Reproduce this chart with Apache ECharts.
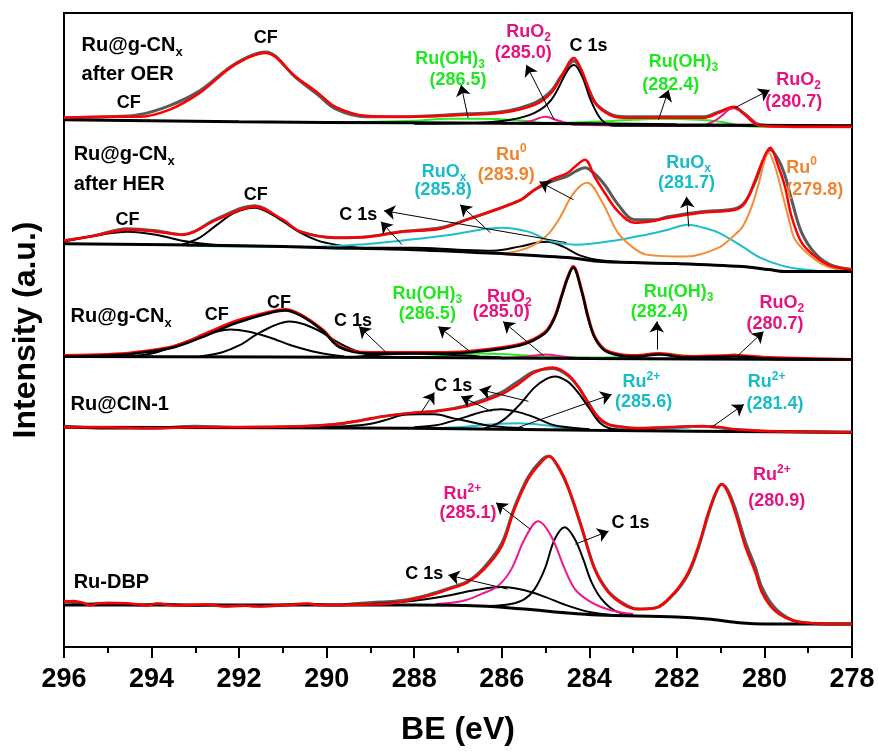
<!DOCTYPE html>
<html><head><meta charset="utf-8">
<script src="https://cdn.jsdelivr.net/npm/echarts@6/dist/echarts.min.js"></script>
<style>html,body{margin:0;padding:0;background:#fff}#c{width:878px;height:751px}</style>
</head><body><div id="c"></div>
<script>
// ---------- axis ----------
const beTicks = [278, 280, 282, 284, 286, 288, 290, 292, 294, 296];

// ---------- Panel 1: Ru@g-CNx after OER ----------
const oerRaw = [[296,530],[295,531],[294.3,533],[293.6,542],[292.9,557],[292.1,584],[291.4,596],[290.7,570],[290.2,553],[289.8,539],[289.1,531],[288.3,531],[286.8,534],[286.0,536],[285.25,545],[284.87,557],[284.64,572],[284.35,587],[284.18,576],[284.03,560],[283.88,546],[283.72,539],[283.42,532],[283.1,531],[281.4,531],[281.05,536],[280.7,540],[280.45,534],[280.1,523],[279,521],[278,521]];
const oerFit = [[296,530],[295,531],[294.3,531],[293.6,538],[292.9,555],[292.1,583],[291.4,595],[290.7,571],[290.2,555],[289.8,541],[289.1,532],[288.3,531],[286.8,533],[286.0,535],[285.25,543],[284.87,555],[284.64,571],[284.35,590],[284.18,578],[284.03,561],[283.88,546],[283.72,538],[283.42,531],[283.1,530],[281.4,530],[281.05,535],[280.7,541],[280.45,533],[280.1,522],[279,521],[278,521]];
const oerC1s = [[288,524],[286.5,525],[285.8,528],[285.25,535],[284.87,548],[284.49,578],[284.35,583],[284.16,571],[283.97,548],[283.72,528],[283.42,522],[282,522],[278,522]];
const oerRuOH3 = [[290,525],[288,527],[287.2,529],[286.5,529],[285.5,527],[285,525],[284,526],[283,528],[282.4,529],[281.5,528],[281,526],[280.5,522],[280,521],[278,521]];
const oerRuO2 = [[286,524],[285.4,526],[285.0,531],[284.7,527],[284.3,523],[281.5,522],[281.1,528],[280.7,540],[280.35,530],[280.05,522],[279.5,521],[278,521]];
const oerBg = [[296,528],[292,526],[288,525],[284,524],[282,523],[278,522]];

// ---------- Panel 2: Ru@g-CNx after HER ----------
const herRaw = [[296,407],[295.3,412],[294.55,419],[293.9,417],[293.3,413],[292.5,429],[291.65,442],[291.0,427],[290.6,416],[289.8,410],[289.05,411],[288.3,416],[287.4,420],[286.8,428],[285.6,447],[285.25,458],[284.87,466],[284.49,472],[284.33,476],[284.1,480],[283.88,474],[283.65,463],[283.34,443],[282.97,428],[282.5,428],[282.2,431],[281.45,436],[280.67,439],[280.44,446],[280.21,466],[280.06,483],[279.87,498],[279.68,488],[279.53,472],[279.38,448],[279.15,415],[278.84,394],[278.5,383],[278,378]];
const herFit = [[296,407],[295.3,412],[294.55,418],[293.9,416],[293.3,413],[292.5,428],[291.65,441],[291.0,428],[290.6,416],[289.8,410],[289.05,411],[288.3,416],[287.4,419],[286.8,428],[285.6,447],[285.25,458],[284.87,468],[284.49,475],[284.33,481],[284.1,488],[283.88,471],[283.65,455],[283.34,436],[282.97,425],[282.5,427],[282.2,430],[281.45,435],[280.67,438],[280.44,445],[280.21,468],[280.06,485],[279.87,500],[279.68,481],[279.53,461],[279.38,431],[279.15,405],[278.84,391],[278.5,382],[278,378]];
const herCF1 = [[296,406],[295.3,412],[294.55,416],[293.9,413],[293.3,407],[292.6,403],[292,402]];
const herCF2 = [[293.3,403],[292.9,410],[292.5,423],[292.1,435],[291.65,440],[291.2,432],[290.6,415],[290.2,407],[289.8,403],[289.3,400]];
const herC1s = [[290,400],[289,400],[288,400],[287,398],[286.2,397],[285.6,401],[285.2,405],[284.95,406],[284.6,401],[284.2,392],[283.7,387],[283,385],[282,384]];
const herRuOx = [[293.2,402],[291,401],[290.2,401],[289,404],[288.3,407],[287.15,413],[286.5,418],[286.0,420],[285.4,416],[284.85,406],[284.3,403],[283.3,408],[282.7,413],[282.2,418],[281.75,423],[281.4,420],[281.05,415],[280.5,401],[280.1,390],[279.6,382],[279.1,378],[278.5,376],[278,376]];
const herRu0 = [[286,394],[285.6,397],[285.25,403],[284.95,413],[284.7,428],[284.35,455],[284.05,465],[283.7,445],[283.35,415],[283.0,400],[282.7,393],[281.8,391],[281.05,400],[280.75,410],[280.5,421],[280.3,440],[280.15,461],[279.9,495],[279.75,480],[279.6,455],[279.45,430],[279.3,408],[278.9,390],[278.5,380],[278,377]];
const herBg = [[296,404],[292,402],[290,400],[288,398],[286,394],[284.5,390],[283.7,386],[282,384],[280.5,381],[279.9,378],[279.5,376],[278,376]];

// ---------- Panel 3: Ru@g-CNx ----------
const gcnRaw = [[296,291],[295,292],[294.4,294],[293.5,300],[292.7,313],[292.1,324],[291.35,334],[290.95,337],[290.6,332],[290.1,317],[289.7,300],[289.05,294],[287.5,294],[286.8,295],[285.6,302],[285.02,314],[284.79,330],[284.64,350],[284.49,370],[284.37,380],[284.18,357],[284.03,330],[283.88,310],[283.65,297],[283.3,292],[282.95,291],[282.4,293],[281.8,290],[280.7,291],[279.9,289],[278,288]];
const gcnFit = [[296,292],[295,293],[294.4,295],[293.5,301],[292.7,315],[292.1,326],[291.35,335],[290.95,338],[290.6,333],[290.1,318],[289.7,301],[289.05,295],[287.5,295],[286.8,296],[285.6,303],[285.02,315],[284.79,331],[284.64,351],[284.49,371],[284.37,381],[284.18,358],[284.03,331],[283.88,311],[283.65,298],[283.3,293],[282.95,292],[282.4,294],[281.8,291],[280.7,292],[279.9,290],[278,288]];
const gcnCF1 = [[294.6,291],[294,294],[293.5,301],[293,309],[292.5,316],[292.2,318],[291.8,316],[291.3,310],[290.8,302],[290.2,295],[289.6,291]];
const gcnCF2 = [[292.9,291],[292.4,295],[292,302],[291.6,313],[291.2,322],[290.85,326],[290.5,323],[290.1,315],[289.7,304],[289.3,296],[288.8,291]];
const gcnC1s = [[289.5,290],[288.7,293],[288,294],[287.3,293],[286.5,291],[286,290]];
const gcnRuOH3 = [[288,290],[287.2,292],[286.5,294],[285.8,293],[285,291],[284,290],[283,291],[282.4,294],[281.8,292],[281,289],[278,288]];
const gcnRuO2 = [[286,289],[285.4,291],[285.0,293],[284.6,291],[284.2,289],[281.5,289],[281.0,291],[280.7,293],[280.3,290],[279.8,288],[278,288]];
const gcnBg = [[296,291],[288,290],[284,289],[278,288]];

// ---------- Panel 4: Ru@CIN-1 ----------
const cinRaw = [[296,221],[295,219],[294,219],[293,221],[292,220],[290.5,221],[289.8,223],[289.2,227],[288.7,231],[287.9,235],[287.55,236],[286.8,242],[286.01,255],[285.63,266],[285.25,276],[284.83,279],[284.49,272],[284.26,261],[284.03,245],[283.8,230],[283.57,223],[283.2,220],[282.95,219],[282.2,220],[281.4,221],[280.7,218],[279.9,216],[278,215]];
const cinFit = [[296,220],[295,220],[294,219],[293,220],[292,220],[290.5,221],[289.8,223],[289.2,227],[288.7,231],[287.9,235],[287.55,236],[286.8,241],[286.01,253],[285.63,263],[285.25,275],[284.83,280],[284.49,273],[284.26,261],[284.03,245],[283.8,230],[283.57,223],[283.2,220],[282.95,219],[282.2,220],[281.7,221],[281.4,221],[281.0,220],[280.7,218],[279.9,216],[278,215]];
const cinC1 = [[290.2,220],[289.6,221],[289.06,223],[288.6,228],[288.3,232],[287.92,233],[287.54,233],[287.1,229],[286.78,226],[286.17,221],[285.5,219]];
const cinC2 = [[288,220],[287.5,222],[287.16,226],[286.78,231],[286.4,236],[286.01,238],[285.6,235],[285.25,230],[284.87,223],[284.49,220],[284,218]];
const cinC3 = [[286.4,219],[286.01,226],[285.63,241],[285.25,260],[285.0,268],[284.79,271],[284.5,266],[284.26,255],[284.03,241],[283.72,223],[283.4,218],[282.5,217]];
const cinRu2 = [[288,219],[287,220],[286.2,223],[285.6,224],[285,222],[284.5,219],[283.5,217],[282.5,217],[281.9,219],[281.4,221],[280.9,219],[280.4,216],[278,215]];
const cinBg = [[296,220],[288,219],[284,217],[278,215]];

// ---------- Panel 5: Ru-DBP ----------
const dbpRaw = [[296,46],[295.7,44],[295.4,43],[295,44],[294.6,43],[294.2,42],[293.8,43],[293.4,42],[293,41.5],[292.6,42],[292.2,41],[291.8,41.5],[291.4,41],[291,42],[290.6,43],[290.2,42.5],[289.8,42],[289.3,43.5],[288.8,45],[288.3,46.5],[287.7,52],[287.2,59],[286.77,66],[286.4,80],[286.0,104],[285.71,140],[285.4,170],[285.1,187],[284.92,191],[284.71,180],[284.49,160],[284.18,120],[283.88,79],[283.57,56],[283.2,43],[282.9,38],[282.5,39],[282.05,54],[281.74,73],[281.51,99],[281.28,133],[281.1,155],[280.98,163],[280.85,158],[280.67,139],[280.44,106],[280.21,80],[280.06,60],[279.8,41],[279.5,30],[279.2,25],[278.5,23],[278,23]];
const dbpFit = [[296,45],[295.78,46],[295.55,44],[295.39,41.5],[295.24,43.5],[294.78,44],[294.25,42.5],[294.1,41.5],[293.87,43.5],[293.49,41.5],[292.72,42.5],[292.35,40.5],[291.96,41.5],[291.58,40.5],[291.21,41.5],[290.82,42],[290.43,43.5],[290.21,42],[289.67,42],[289,42.5],[288.45,44],[287.7,51],[287.2,58],[286.77,65],[286.4,78],[286.0,101],[285.71,138],[285.4,168],[285.1,185],[284.92,191],[284.71,181],[284.49,161],[284.18,121],[283.88,78],[283.57,55],[283.2,42],[282.9,38],[282.5,39],[282.05,55],[281.74,75],[281.51,101],[281.28,135],[281.1,156],[280.98,163],[280.85,156],[280.67,135],[280.44,101],[280.21,75],[280.06,55],[279.8,38],[279.5,29],[279.2,25],[278.5,23],[278,23]];
const dbpRu2 = [[287.5,43],[286.9,46],[286.47,53],[286.09,61],[285.78,78],[285.48,108],[285.17,126],[284.87,111],[284.56,78],[284.33,58],[284.0,46],[283.6,38],[283.2,34],[283,33]];
const dbpC1sA = [[286.3,41],[285.8,43],[285.48,48],[285.25,58],[285.02,78],[284.79,108],[284.56,120],[284.33,108],[284.14,88],[283.95,65],[283.72,48],[283.4,36],[283.0,32]];
const dbpC1sB = [[289,43],[288.3,45],[287.7,48],[287.15,52],[286.6,57],[286.0,60],[285.5,57],[285.0,50],[284.6,43],[284.0,35],[283.5,32]];
const dbpBg = [[296,42],[288,42],[286.5,41],[285.5,38],[284.5,34],[283.8,32],[282,30],[281.3,28],[280.5,24],[280,23],[278,23]];

// ---------- annotations (data coordinates) ----------
const annText = [
  [295.6,602,'Ru@g-CN{sub|x}','title'],[295.6,573,'after OER','title'],
  [291.39,610,'CF','blk'],[294.52,545,'CF','blk'],
  [287.18,589,'Ru(OH){sub|3}','grn'],[287.0,568,'(286.5)','grn'],
  [285.39,616,'RuO{sub|2}','pnk'],[285.51,595,'(285.0)','pnk'],
  [284.02,602,'C 1s','blk'],
  [281.85,586,'Ru(OH){sub|3}','grn'],[282.14,563,'(282.4)','grn'],
  [279.22,568,'RuO{sub|2}','pnk'],[279.33,546,'(280.7)','pnk'],

  [295.78,493,'Ru@g-CN{sub|x}','title'],[295.78,463,'after HER','title'],
  [291.62,453,'CF','blk'],[294.55,428,'CF','blk'],[289.28,433,'C 1s','blk'],
  [287.32,476,'RuO{sub|x}','cyn'],[287.34,458,'(285.8)','cyn'],
  [285.78,493,'Ru{sup|0}','org'],[285.9,473,'(283.9)','org'],
  [281.73,485,'RuO{sub|x}','cyn'],[281.78,465,'(281.7)','cyn'],
  [279.15,480,'Ru{sup|0}','org'],[278.85,458,'(279.8)','org'],

  [295.85,331,'Ru@g-CN{sub|x}','title'],
  [292.51,332,'CF','blk'],[291.09,345,'CF','blk'],[289.4,326,'C 1s','blk'],
  [287.7,354,'Ru(OH){sub|3}','grn'],[287.7,333,'(286.5)','grn'],
  [285.83,351,'RuO{sub|2}','pnk'],[286.01,335,'(285.0)','pnk'],
  [281.96,356,'Ru(OH){sub|3}','grn'],[282.4,335,'(282.4)','grn'],
  [279.6,345,'RuO{sub|2}','pnk'],[279.76,323,'(280.7)','pnk'],

  [295.85,243,'Ru@CIN-1','title'],
  [287.11,261,'C 1s','blk'],
  [282.81,265,'Ru{sup|2+}','cyn'],[282.76,245,'(285.6)','cyn'],
  [279.95,265,'Ru{sup|2+}','cyn'],[279.76,243,'(281.4)','cyn'],

  [295.78,65,'Ru-DBP','title'],
  [286.9,153,'Ru{sup|2+}','pnk'],[286.77,134.5,'(285.1)','pnk'],
  [279.83,172,'Ru{sup|2+}','pnk'],[279.72,146,'(280.9)','pnk'],
  [283.06,124,'C 1s','blk'],[287.77,73,'C 1s','blk']
];
const annArrows = [
  [[286.77,530],[286.93,563]],[[284.8,528],[285.44,583]],[[282.42,528],[282.19,558]],[[280.68,540],[279.88,558]],
  [[284.52,405],[288.69,437]],[[288.28,403],[288.76,426]],[[286.26,415],[286.95,443]],[[284.36,448],[285.14,466]],[[281.73,421],[281.78,451]],
  [[288.64,295],[289.26,321]],[[286.7,295],[287.45,321]],[[285.05,292],[285.97,326]],[[282.46,298],[282.46,326]],[[280.63,291],[280.02,316]],
  [[287.84,235],[287.54,255]],[[286.24,236],[286.93,251]],[[285.39,246],[286.51,258]],[[285.62,220],[283.49,253]],[[281.21,220],[280.47,243]],
  [[285.35,118],[286.13,144.5]],[[284.32,103],[283.56,116]],[[285.87,58],[287.22,72]]
];

// ---------- styles ----------
const FONT = '"Liberation Sans", Arial, Helvetica, sans-serif';
const C = {red:'#ff0000', gray:'#5a5a5a', black:'#000000', green:'#22ee22', pink:'#f0168c', cyan:'#1cbfc9', orange:'#f28c38'};
const TXT = {title:'#000000', blk:'#000000', grn:'#1fe81f', pnk:'#e6127f', cyn:'#17bcc6', org:'#ee8530'};

function ln(data, color, width) {
  return {type:'line', data, smooth:0.35, symbol:'none', showSymbol:false,
    lineStyle:{color, width}, itemStyle:{color}, silent:true, animation:false, z:2};
}
const series = [
  ln(oerRaw,C.gray,3), ln(oerRuOH3,C.green,2), ln(oerRuO2,C.pink,2), ln(oerC1s,C.black,2), ln(oerBg,C.black,3), ln(oerFit,C.red,2.5),
  ln(herRaw,C.gray,3), ln(herCF1,C.black,2), ln(herCF2,C.black,2), ln(herC1s,C.black,2), ln(herRuOx,C.cyan,2), ln(herRu0,C.orange,2), ln(herBg,C.black,3), ln(herFit,C.red,2.5),
  ln(gcnRuOH3,C.green,2), ln(gcnRuO2,C.pink,2), ln(gcnCF1,C.black,2), ln(gcnCF2,C.black,2), ln(gcnC1s,C.black,2), ln(gcnBg,C.black,3), ln(gcnFit,C.red,3), ln(gcnRaw,C.black,2.5),
  ln(cinRaw,C.gray,3), ln(cinRu2,C.cyan,2), ln(cinC1,C.black,2), ln(cinC2,C.black,2), ln(cinC3,C.black,2), ln(cinBg,C.black,3), ln(cinFit,C.red,2.5),
  ln(dbpRaw,C.gray,3), ln(dbpC1sB,C.black,2), ln(dbpC1sA,C.black,2), ln(dbpRu2,C.pink,2), ln(dbpBg,C.black,3), ln(dbpFit,C.red,2.5)
];

series.push({
  type:'line', data:[], silent:true, animation:false, z:5,
  markLine:{silent:true, animation:false, symbol:['none','arrow'], symbolSize:11,
    label:{show:false}, lineStyle:{color:'#000', width:1, type:'solid', opacity:1},
    itemStyle:{color:'#000'},
    emphasis:{disabled:true},
    data: annArrows.map(a => [{coord:a[0]},{coord:a[1]}])}
});

function rich(color, size) {
  const s = Math.round(size*0.66);
  return {
    sub:{fontSize:s, fontWeight:'bold', fontFamily:FONT, color, verticalAlign:'bottom', lineHeight:s},
    sup:{fontSize:s, fontWeight:'bold', fontFamily:FONT, color, verticalAlign:'top', lineHeight:s}
  };
}
series.push({
  type:'scatter', symbolSize:1, itemStyle:{color:'rgba(0,0,0,0)', opacity:1}, silent:true, animation:false, z:10,
  data: annText.map(t => {
    const isTitle = t[3] === 'title';
    const size = isTitle ? 20 : 18;
    const col = TXT[t[3]];
    return {value:[t[0], t[1]], label:{show:true, position:'inside', align: isTitle ? 'left' : 'center',
      verticalAlign:'middle', formatter:t[2], color:col, opacity:1, textBorderWidth:0, fontSize:size, fontWeight:'bold', fontFamily:FONT,
      lineHeight:size+6, rich:rich(col,size)}};
  })
});

const chart = echarts.init(document.getElementById('c'), null, {renderer:'canvas'});
chart.setOption({
  animation:false,
  backgroundColor:'#ffffff',
  grid:{left:64, right:26, top:13, bottom:103, show:true, borderColor:'#000', borderWidth:2},
  xAxis:{type:'value', min:beTicks[0], max:beTicks[beTicks.length-1], interval:beTicks[1]-beTicks[0], inverse:true,
    axisLine:{show:true, onZero:false, lineStyle:{color:'#000', width:2}},
    axisTick:{show:true, inside:false, length:11, lineStyle:{color:'#000', width:2}},
    minorTick:{show:true, splitNumber:2, length:6, lineStyle:{color:'#000', width:2}},
    splitLine:{show:false},
    axisLabel:{fontSize:27, fontWeight:'bold', color:'#000', fontFamily:FONT, margin:19},
    name:'BE (eV)', nameLocation:'middle', nameGap:67,
    nameTextStyle:{fontSize:32, fontWeight:'bold', color:'#000', fontFamily:FONT}},
  yAxis:{type:'value', min:0, max:635,
    axisLine:{show:true, lineStyle:{color:'#000', width:2}},
    axisTick:{show:false}, axisLabel:{show:false}, splitLine:{show:false},
    name:'Intensity (a.u.)', nameLocation:'middle', nameGap:22, nameRotate:90,
    nameTextStyle:{fontSize:32, fontWeight:'bold', color:'#000', fontFamily:FONT}},
  series
});
</script>
</body></html>
